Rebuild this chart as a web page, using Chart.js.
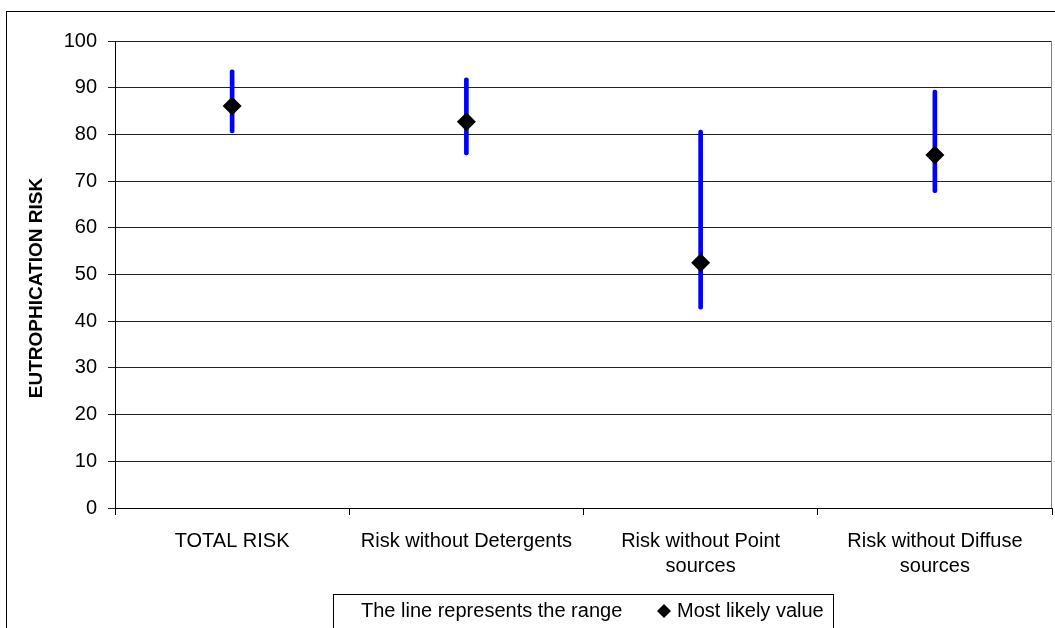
<!DOCTYPE html>
<html>
<head>
<meta charset="utf-8">
<script src="https://cdn.jsdelivr.net/npm/chart.js@4"></script>
<style>
  body { margin: 0; background: #fff; }
  #wrap { width: 1055px; height: 628px; }
</style>
</head>
<body>
<div id="wrap"><canvas id="grafico" width="1055" height="628"></canvas></div>
<script>
// dados
const categorias = ['TOTAL RISK', 'Risk without Detergents', ['Risk without Point', 'sources'], ['Risk without Diffuse', 'sources']];
const faixaMin = [80.3, 75.6, 42.6, 67.5];
const faixaMax = [93.8, 92.1, 80.9, 89.5];
const maisProvavel = [86.1, 82.7, 52.5, 75.6];
const yTicks = [0, 10, 20, 30, 40, 50, 60, 70, 80, 90, 100];
const tituloY = 'EUTROPHICATION RISK';
const legendaTextos = ['The line represents the range', 'Most likely value'];

const fonte = '"Liberation Sans", Arial, sans-serif';

// moldura externa, título do eixo, borda da área de plotagem e legenda
const molduraPlugin = {
    id: 'moldura',
    beforeDraw(chart) {
        const ctx = chart.ctx;
        ctx.save();
        ctx.fillStyle = '#fff';
        ctx.fillRect(0, 0, chart.width, chart.height);
        ctx.restore();
    },
    afterDraw(chart) {
        const ctx = chart.ctx;
        const area = chart.chartArea;
        ctx.save();
        ctx.lineWidth = 1;
        ctx.strokeStyle = '#000';
        ctx.strokeRect(6.5, 11.5, 1100, 700);

        ctx.strokeStyle = '#808080';
        ctx.beginPath();
        ctx.moveTo(Math.round(area.right) - 0.5, area.top);
        ctx.lineTo(Math.round(area.right) - 0.5, area.bottom);
        ctx.stroke();

        // título do eixo y
        ctx.save();
        ctx.translate(37, 288);
        ctx.rotate(-Math.PI / 2);
        ctx.fillStyle = '#000';
        ctx.font = 'bold 19px ' + fonte;
        ctx.textAlign = 'center';
        ctx.textBaseline = 'middle';
        ctx.fillText(tituloY, 0, 0);
        ctx.restore();

        // legenda
        ctx.strokeStyle = '#000';
        ctx.strokeRect(333.5, 594.5, 500, 60);
        ctx.fillStyle = '#000';
        ctx.font = '20px ' + fonte;
        ctx.textBaseline = 'middle';
        ctx.textAlign = 'left';
        ctx.fillText(legendaTextos[0], 361, 611);
        ctx.beginPath();
        ctx.moveTo(664, 604);
        ctx.lineTo(671, 611);
        ctx.lineTo(664, 618);
        ctx.lineTo(657, 611);
        ctx.closePath();
        ctx.fill();
        ctx.fillText(legendaTextos[1], 677, 611);
        ctx.restore();
    }
};

const ctx = document.getElementById('grafico').getContext('2d');
new Chart(ctx, {
    type: 'bar',
    data: {
        labels: categorias,
        datasets: [{
            type: 'line',
            label: 'Most likely value',
            data: maisProvavel,
            showLine: false,
            pointStyle: 'rectRot',
            pointRadius: 9.5,
            pointBackgroundColor: '#000',
            pointBorderColor: '#000',
            pointBorderWidth: 0,
            order: 0
        }, {
            label: 'Range',
            data: faixaMin.map((v, i) => [v, faixaMax[i]]),
            backgroundColor: '#0000ff',
            borderWidth: 0,
            barThickness: 4,
            borderRadius: 2,
            borderSkipped: false,
            grouped: false,
            order: 1
        }]
    },
    options: {
        responsive: false,
        animation: false,
        devicePixelRatio: 1,
        layout: { autoPadding: false, padding: { left: 0, right: 3, top: 41, bottom: 0 } },
        plugins: {
            legend: { display: false },
            tooltip: { enabled: false }
        },
        scales: {
            x: {
                offset: true,
                grid: {
                    offset: true,
                    drawOnChartArea: false,
                    drawTicks: true,
                    tickLength: 7,
                    color: '#000'
                },
                border: { color: '#000', width: 1 },
                ticks: {
                    color: '#000',
                    font: { family: fonte, size: 20, lineHeight: 1.25 },
                    padding: 14,
                    maxRotation: 0,
                    autoSkip: false
                },
                afterFit(scale) { scale.height = 120; }
            },
            y: {
                min: 0,
                max: 100,
                afterBuildTicks(scale) { scale.ticks = yTicks.map(v => ({ value: v })); },
                grid: {
                    color: '#222',
                    tickLength: 7,
                    drawTicks: true
                },
                border: { color: '#000', width: 1 },
                ticks: {
                    color: '#000',
                    font: { family: fonte, size: 20 },
                    padding: 11
                },
                afterFit(scale) { scale.width = 115; }
            }
        }
    },
    plugins: [molduraPlugin]
});
</script>
</body>
</html>
